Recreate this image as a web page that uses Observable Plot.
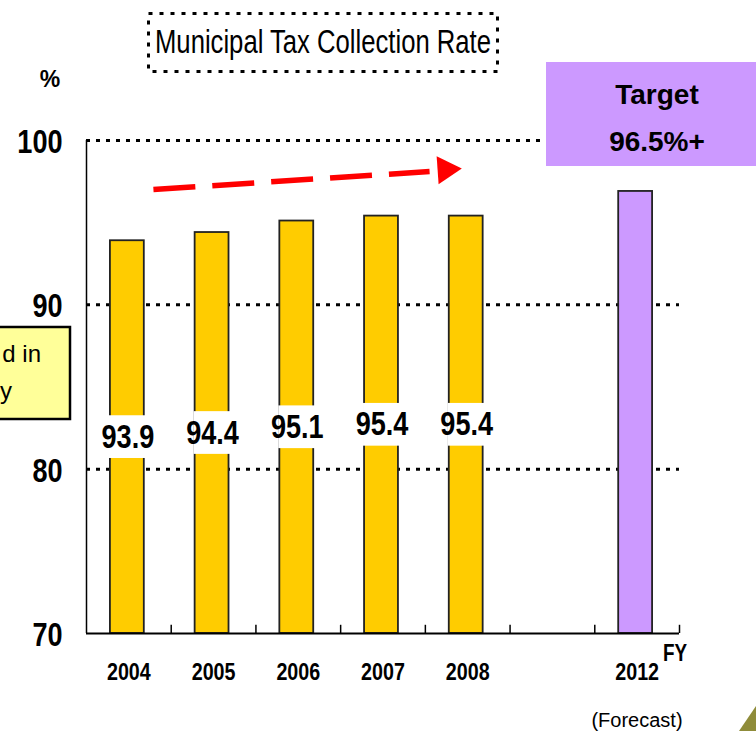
<!DOCTYPE html>
<html><head><meta charset="utf-8">
<script src="https://cdn.jsdelivr.net/npm/d3@7"></script>
<script src="https://cdn.jsdelivr.net/npm/@observablehq/plot@0.6"></script>
<style>
html,body{margin:0;padding:0;background:#fff;overflow:hidden}
#chart svg{display:block}
</style></head><body><div id="chart"></div>
<script>
// ---- data ----
const axisYears = ["2004", "2005", "2006", "2007", "2008", "", "2012"];
const actualYears = ["2004", "2005", "2006", "2007", "2008"];
const actualRates = [93.9, 94.4, 95.1, 95.4, 95.4];
const targetYear = "2012";
const targetRate = 96.9;
const targetLabel = ["Target", "96.5%+"];
const yTicks = [70, 80, 90, 100];
const gridTicks = [80, 90, 100];
const trendLine = [{x: 0.79, y: 97.02}, {x: 4.05, y: 98.11}];
const trendHead = [{x: 4.24, y: 98.22}];
const titleText = "Municipal Tax Collection Rate";
const unitLabel = "%";
const fyLabel = "FY";
const forecastLabel = "(Forecast)";
const noteLines = ["d in", "y"];

const SANS = "'Liberation Sans',Arial,sans-serif";
const CONDENSE = 0.82;

const pos = y => axisYears.indexOf(y) + 0.5;
const actual = actualYears.map((y, i) => ({year: y, rate: actualRates[i], pos: pos(y), mid: (actualRates[i] + 70) / 2}));
const target = [{year: targetYear, rate: targetRate, pos: pos(targetYear)}];
const half = 0.2;

const svg = Plot.plot({
  width: 756, height: 731,
  marginLeft: 86, marginRight: 77, marginTop: 140, marginBottom: 98,
  x: {type: "linear", domain: [0, axisYears.length], axis: null},
  y: {domain: [70, 100], axis: null},
  style: {fontFamily: SANS, background: "white", overflow: "visible"},
  marks: [
    Plot.ruleY(gridTicks, {stroke: "black", strokeWidth: 3, strokeDasharray: "4,6"}),
    Plot.rect(actual, {x1: d => d.pos - half, x2: d => d.pos + half, y1: 70, y2: "rate", dx: -1.5,
      fill: "#FFCC00", stroke: "#222", strokeWidth: 1.8}),
    Plot.rect(target, {x1: d => d.pos - half, x2: d => d.pos + half, y1: 70, y2: "rate", dx: -1.5,
      fill: "#CC99FF", stroke: "#222", strokeWidth: 1.8}),
    // white label boxes cutting the bars
    Plot.rect(actual, {x1: d => d.pos - half - 0.03, x2: d => d.pos + half + 0.03,
      y1: d => d.mid - 1.3, y2: d => d.mid + 1.3, fill: "white"}),
    Plot.text(actual, {x: "pos", y: "mid", text: d => d.rate.toFixed(1), dx: -1,
      fontSize: 33, fontWeight: "bold", fill: "black"}),
    Plot.ruleX([0], {y1: 70, y2: 100, stroke: "black", strokeWidth: 1.5}),
    Plot.ruleY([70], {stroke: "black", strokeWidth: 2}),
    Plot.ruleX(d3.range(1, axisYears.length + 1), {y1: 70, y2: 70.5, stroke: "black", strokeWidth: 1.5}),
    Plot.text(yTicks, {x: 0, y: d => d, text: d => String(d), textAnchor: "end", dx: -24, dy: 2,
      fontSize: 33, fontWeight: "bold"}),
    Plot.text(axisYears, {x: (d, i) => i + 0.5, y: 70, text: d => d, dy: 39,
      fontSize: 24, fontWeight: "bold"}),
    Plot.line(trendLine, {x: "x", y: "y", stroke: "#FF0000", strokeWidth: 5.5,
      strokeDasharray: "42,17", strokeLinecap: "butt"}),
    Plot.dot(trendHead, {x: "x", y: "y", symbol: "triangle", r: 10.4, fill: "#FF0000", rotate: 86})
  ]
});
document.getElementById("chart").appendChild(svg);

const s = d3.select(svg);
// condense Plot's text marks (narrow font look)
s.selectAll("g[aria-label='text'] text").each(function() {
  const w = this.getComputedTextLength();
  if (w > 0) {
    this.setAttribute("textLength", (w * CONDENSE).toFixed(1));
    this.setAttribute("lengthAdjust", "spacingAndGlyphs");
  }
});

// ---- annotations ----
function txt(x, y, t, opts = {}) {
  const e = s.append("text").attr("x", x).attr("y", y)
    .attr("text-anchor", opts.anchor || "start")
    .attr("font-family", SANS).attr("font-size", opts.size || 20)
    .attr("font-weight", opts.weight || "normal").attr("fill", "black").text(t);
  if (opts.length) e.attr("textLength", opts.length).attr("lengthAdjust", "spacingAndGlyphs");
  if (opts.condense) {
    const w = e.node().getComputedTextLength();
    e.attr("textLength", (w * opts.condense).toFixed(1)).attr("lengthAdjust", "spacingAndGlyphs");
  }
  return e;
}
// title box
s.append("rect").attr("x", 148.5).attr("y", 13.5).attr("width", 349).attr("height", 58)
  .attr("fill", "white").attr("stroke", "black").attr("stroke-width", 3).attr("stroke-dasharray", "4,7");
txt(155, 53, titleText, {size: 34, length: 336});
// unit
txt(50, 87, unitLabel, {anchor: "middle", size: 23, weight: "bold"});
// target box
s.append("rect").attr("x", 546).attr("y", 62).attr("width", 215).attr("height", 104).attr("fill", "#CC99FF");
targetLabel.forEach((t, i) => txt(657, 104 + i * 47, t, {anchor: "middle", size: 28, weight: "bold"}));
// note box (cut off at left)
s.append("rect").attr("x", -20).attr("y", 327).attr("width", 90).attr("height", 92)
  .attr("fill", "#FFFF99").attr("stroke", "black").attr("stroke-width", 2.5);
txt(41, 362, noteLines[0], {anchor: "end", size: 24});
txt(0, 399, noteLines[1], {anchor: "start", size: 24});
// FY and forecast
txt(675, 661, fyLabel, {anchor: "middle", size: 23, weight: "bold", condense: CONDENSE});
txt(637, 727, forecastLabel, {anchor: "middle", size: 20});
// decorative corner
s.append("polygon").attr("points", "739,731 756,706 756,731").attr("fill", "#8F8C3A");
</script></body></html>
